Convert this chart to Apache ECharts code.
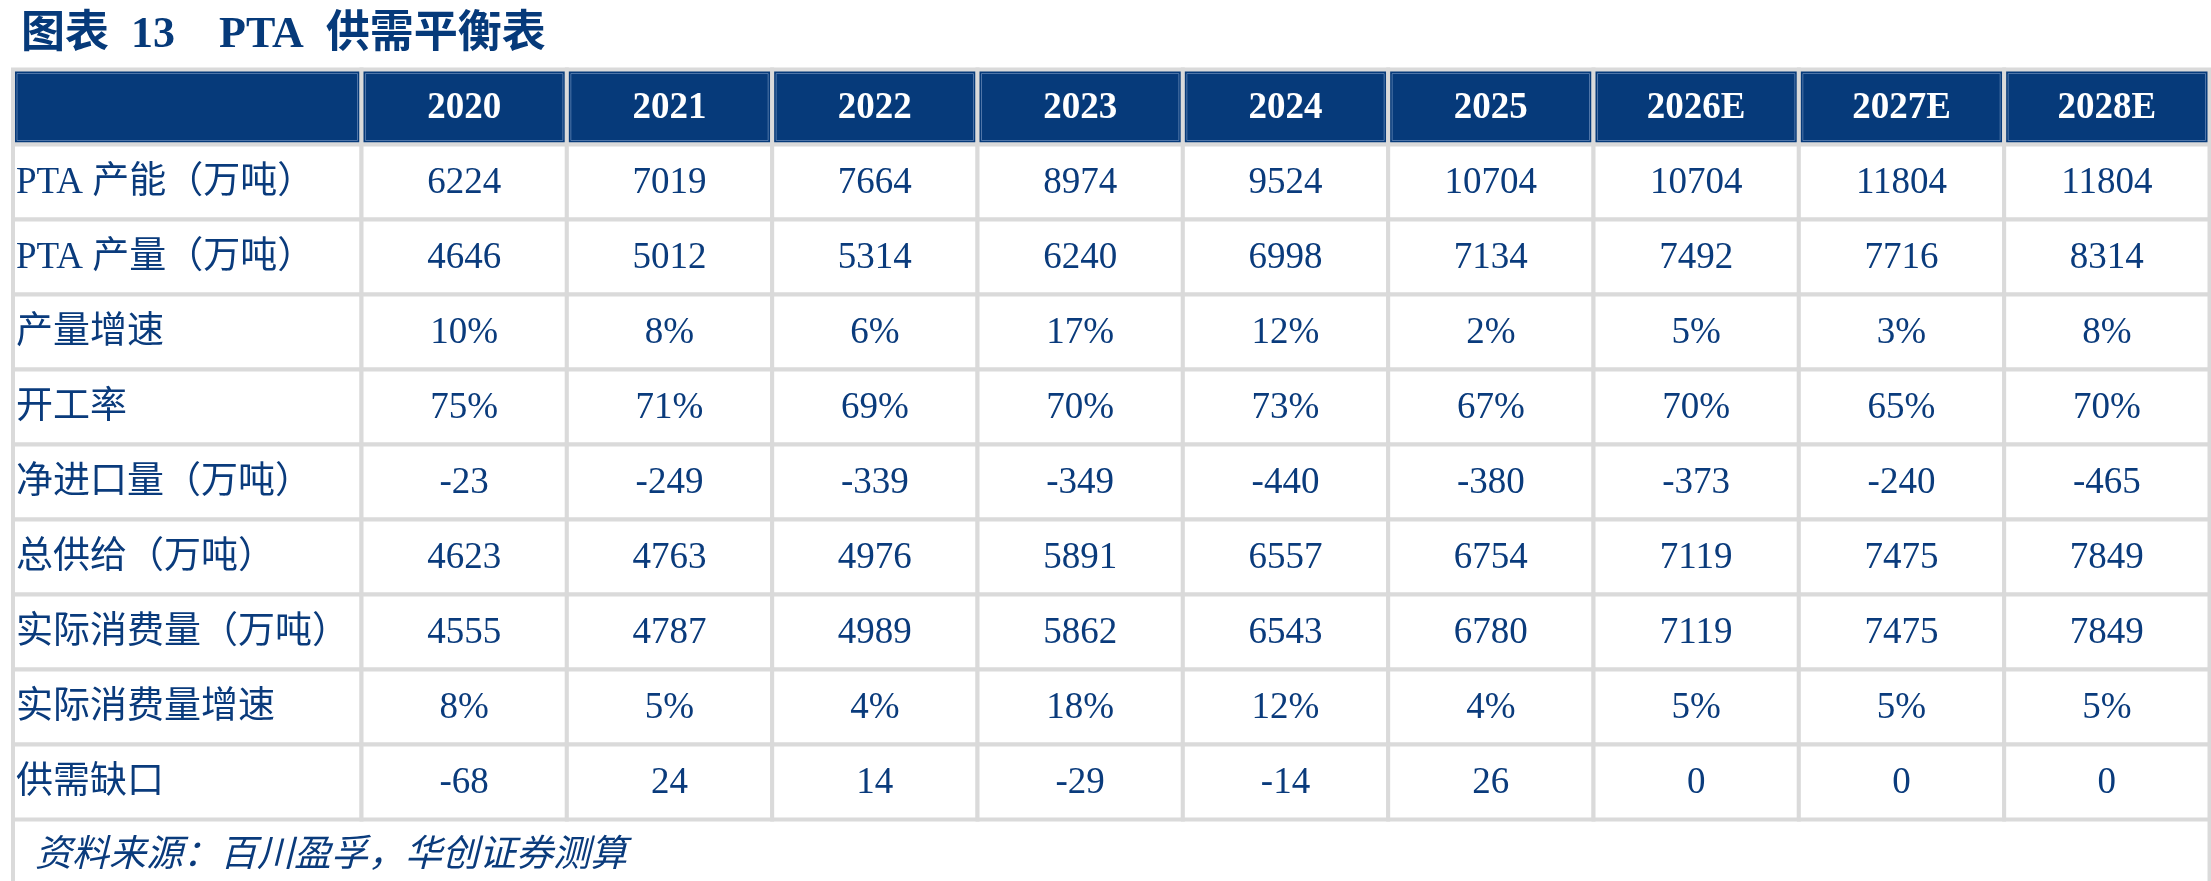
<!DOCTYPE html>
<html>
<head>
<meta charset="utf-8">
<title>PTA 供需平衡表</title>
<script src="https://cdn.jsdelivr.net/npm/echarts@6/dist/echarts.min.js"></script>
<style>
  html, body { margin: 0; padding: 0; background: #fff; }
  #chart { width: 2211px; height: 881px; }
</style>
</head>
<body>
<div id="chart"></div>
<script>
// 表头年份
const years = ['2020', '2021', '2022', '2023', '2024', '2025', '2026E', '2027E', '2028E']
// 行标题
const rowLabels = [
  'PTA 产能（万吨）',
  'PTA 产量（万吨）',
  '产量增速',
  '开工率',
  '净进口量（万吨）',
  '总供给（万吨）',
  '实际消费量（万吨）',
  '实际消费量增速',
  '供需缺口'
]
// 各行数据
const capacity = [6224, 7019, 7664, 8974, 9524, 10704, 10704, 11804, 11804]
const output = [4646, 5012, 5314, 6240, 6998, 7134, 7492, 7716, 8314]
const outputGrowth = [10, 8, 6, 17, 12, 2, 5, 3, 8]          // %
const utilization = [75, 71, 69, 70, 73, 67, 70, 65, 70]      // %
const netImports = [-23, -249, -339, -349, -440, -380, -373, -240, -465]
const totalSupply = [4623, 4763, 4976, 5891, 6557, 6754, 7119, 7475, 7849]
const consumption = [4555, 4787, 4989, 5862, 6543, 6780, 7119, 7475, 7849]
const consumptionGrowth = [8, 5, 4, 18, 12, 4, 5, 5, 5]       // %
const supplyGap = [-68, 24, 14, -29, -14, 26, 0, 0, 0]

const pct = v => v + '%'
const rowTexts = [
  capacity.map(String),
  output.map(String),
  outputGrowth.map(pct),
  utilization.map(pct),
  netImports.map(String),
  totalSupply.map(String),
  consumption.map(String),
  consumptionGrowth.map(pct),
  supplyGap.map(String)
]

// y 轴类目：第 0 行是表头
const rowCats = ['header'].concat(rowLabels)

const NAVY = '#063a7a'
const TEXT = '#0a3b7c'
const GRID_LINE = '#dadada'
const FONT = '"Liberation Serif", "Noto Sans CJK SC", serif'

// 画一个单元格
function cell(api, text, align, isHeader) {
  const center = api.coord([api.value(0), api.value(1)])
  const size = api.size([1, 1])
  const w = size[0], h = size[1]
  const x0 = center[0] - w / 2, y0 = center[1] - h / 2
  const children = [{
    type: 'rect',
    shape: { x: x0, y: y0, width: w, height: h },
    style: { fill: isHeader ? NAVY : '#fff', stroke: GRID_LINE, lineWidth: 4 }
  }]
  if (isHeader) {
    // 表头里的浅色细框
    children.push({
      type: 'rect',
      shape: { x: x0 + 4, y: y0 + 4, width: w - 8, height: h - 8 },
      style: { fill: null, stroke: 'rgba(140,165,205,0.55)', lineWidth: 1 }
    })
  }
  if (text) {
    children.push({
      type: 'text',
      style: {
        text: text,
        x: align === 'left' ? x0 + 3 : center[0],
        y: center[1] + 1,
        align: align,
        verticalAlign: 'middle',
        fill: isHeader ? '#fff' : TEXT,
        fontSize: 37,
        fontWeight: isHeader ? 'bold' : 'normal',
        fontFamily: FONT
      }
    })
  }
  return { type: 'group', children: children }
}

const labelData = rowCats.map((_, r) => [0, r])
const valueData = []
rowCats.forEach((_, r) => {
  years.forEach((_, c) => valueData.push([c, r]))
})

let myChart = echarts.init(document.getElementById('chart'))
let option = {
  animation: false,
  title: [
    {
      text: '图表  13    PTA  供需平衡表',
      left: 16,
      top: 9,
      textStyle: {
        color: NAVY,
        fontSize: 44,
        fontWeight: 'bold',
        fontFamily: FONT
      }
    },
    {
      text: '资料来源：百川盈孚，华创证券测算',
      left: 30,
      top: 833,
      textStyle: {
        color: TEXT,
        fontSize: 37,
        fontStyle: 'italic',
        fontWeight: 'normal',
        fontFamily: FONT
      }
    }
  ],
  grid: [
    { left: 13, top: 69.5, width: 348.5, height: 750 },
    { left: 361.5, top: 69.5, width: 1848, height: 750 }
  ],
  xAxis: [
    { type: 'category', gridIndex: 0, data: ['label'], show: false },
    { type: 'category', gridIndex: 1, data: years, show: false }
  ],
  yAxis: [
    { type: 'category', gridIndex: 0, data: rowCats, inverse: true, show: false },
    { type: 'category', gridIndex: 1, data: rowCats, inverse: true, show: false }
  ],
  graphic: [
    // 资料来源一栏的左右边框
    { type: 'line', shape: { x1: 13, y1: 819.5, x2: 13, y2: 881 }, style: { stroke: GRID_LINE, lineWidth: 4 } },
    { type: 'line', shape: { x1: 2209.5, y1: 819.5, x2: 2209.5, y2: 881 }, style: { stroke: GRID_LINE, lineWidth: 4 } }
  ],
  series: [
    {
      type: 'custom',
      xAxisIndex: 0,
      yAxisIndex: 0,
      clip: false,
      data: labelData,
      renderItem: function (params, api) {
        const r = api.value(1)
        return cell(api, r === 0 ? '' : rowLabels[r - 1], 'left', r === 0)
      }
    },
    {
      type: 'custom',
      xAxisIndex: 1,
      yAxisIndex: 1,
      clip: false,
      data: valueData,
      renderItem: function (params, api) {
        const c = api.value(0), r = api.value(1)
        return cell(api, r === 0 ? years[c] : rowTexts[r - 1][c], 'center', r === 0)
      }
    }
  ]
}

myChart.setOption(option)
</script>
</body>
</html>
